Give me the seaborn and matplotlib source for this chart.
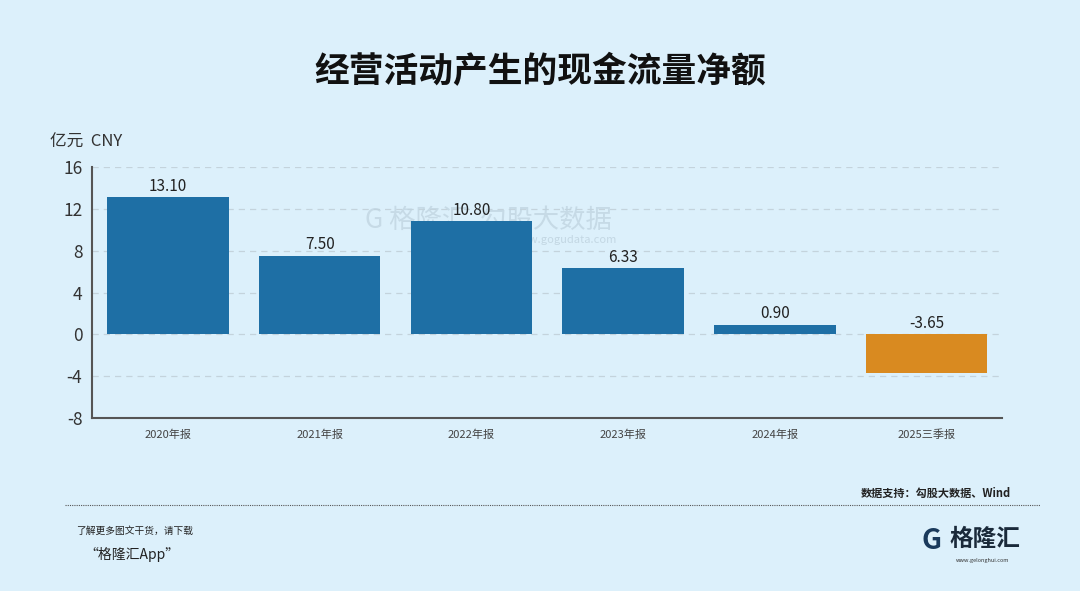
import matplotlib
matplotlib.use("Agg")
import matplotlib.pyplot as plt
import seaborn as sns
import pandas as pd

categories = ["2020年报", "2021年报", "2022年报", "2023年报", "2024年报", "2025三季报"]
values = [13.10, 7.50, 10.80, 6.33, 0.90, -3.65]
labels = ["13.10", "7.50", "10.80", "6.33", "0.90", "-3.65"]
yticks = [-8, -4, 0, 4, 8, 12, 16]

BG = "#dcf0fb"
BLUE = "#1e6fa5"
ORANGE = "#d98a20"

sns.set_theme(style="white")
plt.rcParams['font.family'] = ['Noto Sans CJK SC', 'DejaVu Sans']

fig = plt.figure(figsize=(10.8, 5.91), dpi=100)
fig.patch.set_facecolor(BG)
ax = fig.add_axes([0.0852, 0.2927, 0.843, 0.4247])
ax.set_facecolor(BG)

df = pd.DataFrame({"cat": categories, "val": values})
colors = [BLUE if v >= 0 else ORANGE for v in values]
sns.barplot(data=df, x="cat", y="val", hue="cat", palette=colors, legend=False,
            width=0.8, ax=ax, saturation=1, zorder=3, linewidth=0, edgecolor="none")

ax.set_ylim(-8, 16)
ax.set_xlim(-0.5, 5.5)
ax.set_yticks(yticks)
ax.set_yticklabels([str(t) for t in yticks], fontsize=12.5, color="#333333")
ax.tick_params(axis="y", length=6, width=1.2, color="#555555", direction="out", pad=1)
ax.tick_params(axis="x", length=6, width=1.0, color="#555555", direction="out", labelsize=8, labelcolor="#444444", pad=2)
ax.set_xlabel("")
ax.set_ylabel("")
for t in yticks:
    if t != -8:
        ax.axhline(t, color="#c4d3dc", lw=0.9, ls=(0, (5, 4)), zorder=1)
for s in ["top", "right"]:
    ax.spines[s].set_visible(False)
for s in ["left", "bottom"]:
    ax.spines[s].set_color("#555555")
    ax.spines[s].set_linewidth(1.5)

for i, (v, lab) in enumerate(zip(values, labels)):
    y = v if v > 0 else 0
    ax.text(i, y + 0.25, lab, ha="center", va="bottom", fontsize=11, color="#222222", zorder=5)

# watermark (behind bars)
ax.text(0.452, 0.628, "G 格隆汇  勾股大数据", transform=fig.transFigure, fontsize=19, color="#bfd3df",
        alpha=0.75, ha="center", va="center", zorder=2)
ax.text(0.523, 0.594, "www.gogudata.com", transform=fig.transFigure, fontsize=8, color="#bfd3df",
        alpha=0.85, ha="center", va="center", zorder=2)

fig.text(0.5, 0.878, "经营活动产生的现金流量净额", fontsize=25, fontweight="bold", ha="center", va="center", color="#111111")
fig.text(0.046, 0.76, "亿元  CNY", fontsize=12, ha="left", va="center", color="#333333")

fig.text(0.936, 0.165, "数据支持：勾股大数据、Wind", fontsize=8, ha="right", va="center", color="#222222", fontweight="bold")
fig.add_artist(plt.Line2D([0.06, 0.963], [0.146, 0.146], color="#555555", lw=0.8, ls=(0, (1, 1))))
fig.text(0.07, 0.102, "了解更多图文干货，请下载", fontsize=7, style="italic", ha="left", va="center", color="#222222")
fig.text(0.078, 0.062, "“格隆汇App”", fontsize=10, style="italic", ha="left", va="center", color="#222222")

fig.text(0.853, 0.085, "G", fontsize=20, fontweight="bold", ha="left", va="center", color="#1a3a5c")
fig.text(0.879, 0.088, "格隆汇", fontsize=17, fontweight="bold", ha="left", va="center", color="#1a2a3a")
fig.text(0.885, 0.052, "www.gelonghui.com", fontsize=4, ha="left", va="center", color="#333333")

fig.savefig("out.png", dpi=100, facecolor=BG)
